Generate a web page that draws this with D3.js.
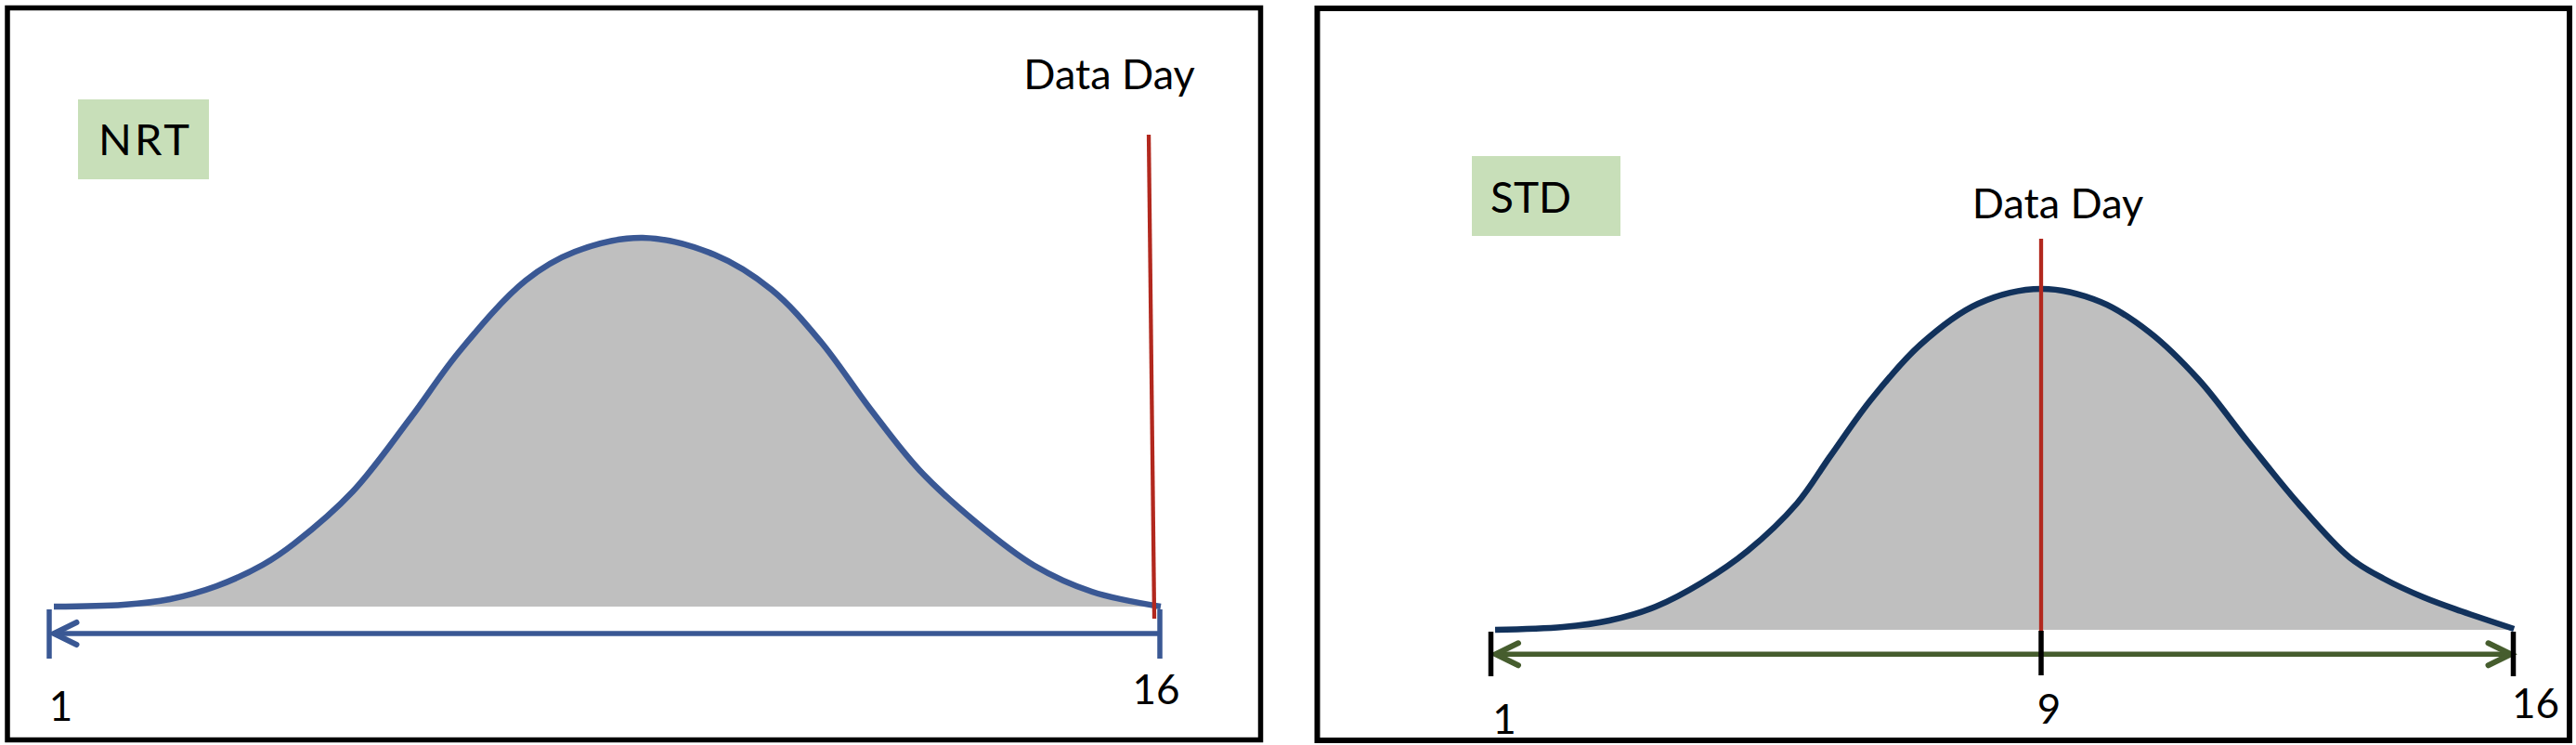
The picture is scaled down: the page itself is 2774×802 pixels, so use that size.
<!DOCTYPE html>
<html><head><meta charset="utf-8">
<script src="https://cdn.jsdelivr.net/npm/d3@7"></script>
<style>html,body{margin:0;padding:0;background:#fff;} svg{display:block;}</style>
</head><body>
<svg id="c" width="2774" height="802"></svg>
<script>
// ---- data ----
const nrtDays    = [1.063, 2.003, 2.630, 3.258, 3.885, 4.311, 5.101, 5.879, 6.543, 7.434, 8.099, 9.014, 9.980, 10.758, 11.422, 12.087, 12.752, 13.529, 14.307, 15.084, 16.012];
const nrtDensity = [0, 0.005, 0.02, 0.055, 0.1125, 0.17, 0.31, 0.5075, 0.6875, 0.8775, 0.955, 0.9925, 0.9475, 0.8525, 0.7125, 0.5325, 0.3675, 0.225, 0.11, 0.04, 0];
const stdDays    = [1.061, 2.046, 2.721, 3.397, 4.072, 4.733, 5.449, 5.935, 6.529, 7.245, 8.082, 9.0, 9.881, 10.611, 11.340, 12.070, 12.813, 13.57, 14.08, 14.67, 15.23, 16.01];
const stdDensity = [0, 0.0075, 0.025, 0.0625, 0.1275, 0.2125, 0.34, 0.4675, 0.62, 0.7675, 0.8775, 0.9175, 0.8825, 0.80, 0.6725, 0.505, 0.34, 0.195, 0.1375, 0.0875, 0.05, 0.0025];
const nrtTicks = [1, 16];
const stdTicks = [1, 9, 16];
const nrtTickLabels = ["1", "16"];
const stdTickLabels = ["1", "9", "16"];
const panelLabels = ["NRT", "STD"];
const dataDayLabel = "Data Day";
const nrtDataDayLine = {day: [15.85, 15.925], v: [1.27, -0.0325]};
const stdDataDayLine = {day: [9, 9], v: [1.0525, -0.0025]};

// ---- layout ----
const svg = d3.select("#c");
const FONT = "Lato, 'Open Sans', sans-serif";
const GRAY = "#bfbfbf", RED = "#b2281e", BOXG = "#c8dfb9";

// panel frames
svg.append("rect").attr("x", 8).attr("y", 8.5).attr("width", 1349.5).attr("height", 788)
  .attr("fill", "#fff").attr("stroke", "#000").attr("stroke-width", 5.5);
svg.append("rect").attr("x", 1418.5).attr("y", 9).attr("width", 1348.5).attr("height", 788)
  .attr("fill", "#fff").attr("stroke", "#000").attr("stroke-width", 6);

function drawPanel(cfg) {
  const g = svg.append("g");
  const x = cfg.x, y = cfg.y;
  const pts = cfg.days.map((d, i) => ({day: d, v: cfg.dens[i]}));
  const curve = d3.curveCatmullRom.alpha(0.5);
  const area = d3.area().x(d => x(d.day)).y0(y(0)).y1(d => y(d.v)).curve(curve);
  const line = d3.line().x(d => x(d.day)).y(d => y(d.v)).curve(curve);
  g.append("path").attr("d", area(pts)).attr("fill", GRAY);
  g.append("path").attr("d", line(pts)).attr("fill", "none")
    .attr("stroke", cfg.curveColor).attr("stroke-width", 6.5);

  // label box
  g.append("rect").attr("x", cfg.box[0]).attr("y", cfg.box[1]).attr("width", cfg.box[2]).attr("height", cfg.box[3])
    .attr("fill", BOXG);
  g.append("text").attr("x", cfg.boxText[0]).attr("y", cfg.boxText[1]).text(cfg.label)
    .attr("font-family", FONT).attr("font-size", cfg.boxFont).attr("letter-spacing", cfg.boxSpacing)
    .attr("fill", "#000");

  // axis arrow line
  const ay = y(0) + cfg.arrowOff;
  const x0 = x(cfg.ticks[0]) + 5, x1 = x(cfg.ticks[cfg.ticks.length - 1]) - (cfg.rightHead ? 2.5 : 0);
  g.append("line").attr("x1", x0).attr("x2", x1).attr("y1", ay).attr("y2", ay)
    .attr("stroke", cfg.arrowColor).attr("stroke-width", 5.5);
  const chevron = (tx, dir) => g.append("path")
    .attr("d", `M${tx + dir * 24.5},${ay - 12} L${tx},${ay} L${tx + dir * 24.5},${ay + 12}`)
    .attr("fill", "none").attr("stroke", cfg.arrowColor).attr("stroke-width", 6)
    .attr("stroke-linecap", "round").attr("stroke-linejoin", "miter");
  chevron(x0, 1);
  if (cfg.rightHead) chevron(x1, -1);

  // ticks
  cfg.ticks.forEach((t, i) => {
    g.append("line").attr("x1", x(t)).attr("x2", x(t))
      .attr("y1", y(0) + cfg.tickTop[i]).attr("y2", y(0) + cfg.tickBot[i])
      .attr("stroke", cfg.tickColor).attr("stroke-width", 5.5);
    g.append("text").attr("x", x(t) + cfg.labelDx[i]).attr("y", cfg.labelY[i])
      .attr("text-anchor", "middle").attr("font-family", FONT).attr("font-size", 44)
      .attr("fill", "#000").text(cfg.tickLabels[i]);
  });

  // data day marker
  const m = cfg.marker;
  g.append("line").attr("x1", x(m.day[0])).attr("y1", y(m.v[0]))
    .attr("x2", x(m.day[1])).attr("y2", y(m.v[1]))
    .attr("stroke", RED).attr("stroke-width", 4.3);
  g.append("text").attr("x", x(m.day[0]) + cfg.ddText[0]).attr("y", cfg.ddText[1])
    .attr("text-anchor", "middle").attr("font-family", FONT).attr("font-size", 45)
    .attr("fill", "#000").text(dataDayLabel);
}

drawPanel({
  x: d3.scaleLinear().domain([1, 16]).range([53, 1249]),
  y: d3.scaleLinear().domain([0, 1]).range([653, 253]),
  days: nrtDays, dens: nrtDensity,
  curveColor: "#3a5894", arrowColor: "#3a5894", tickColor: "#3a5894",
  box: [84, 107, 141, 86], boxText: [106, 167], label: panelLabels[0], boxFont: 47, boxSpacing: 3,
  arrowOff: 29, rightHead: false,
  ticks: nrtTicks, tickLabels: nrtTickLabels,
  tickTop: [3, 3], tickBot: [56, 56], labelDx: [12.5, -4], labelY: [776, 758],
  marker: nrtDataDayLine, ddText: [-42.5, 96]
});

drawPanel({
  x: d3.scaleLinear().domain([1, 9, 16]).range([1605.5, 2198, 2706.5]),
  y: d3.scaleLinear().domain([0, 1]).range([678, 278]),
  days: stdDays, dens: stdDensity,
  curveColor: "#12325c", arrowColor: "#465d2e", tickColor: "#000",
  box: [1585, 168, 160, 86], boxText: [1605, 229], label: panelLabels[1], boxFont: 46, boxSpacing: 0,
  arrowOff: 26.3, rightHead: true,
  ticks: stdTicks, tickLabels: stdTickLabels,
  tickTop: [2, 1, 2], tickBot: [50, 49, 50], labelDx: [14.5, 8.5, 24], labelY: [790, 779, 773],
  marker: stdDataDayLine, ddText: [18, 235]
});
</script>
</body></html>
